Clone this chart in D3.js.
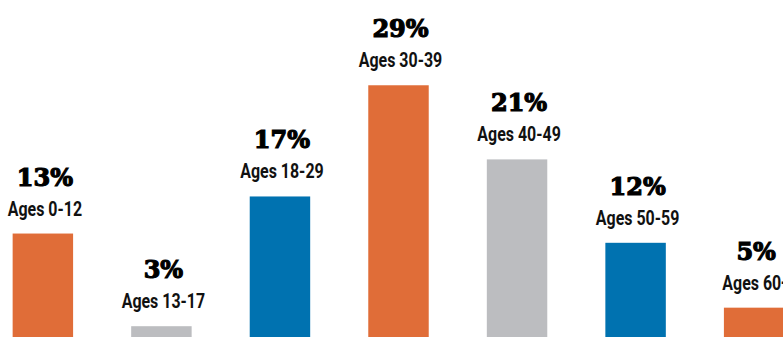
<!DOCTYPE html>
<html>
<head>
    <script src="https://d3js.org/d3.v7.min.js"></script>
    <style>
        body { margin: 0; background: #fff; overflow: hidden; }
        .pct { font-family: "DejaVu Serif", Georgia, serif; font-weight: bold; font-size: 24px; fill: #000; stroke: #000; stroke-width: 1.2px; }
        .age { font-family: Roboto, "DejaVu Sans Condensed", sans-serif; font-weight: bold; font-size: 21px; fill: #111; }
    </style>
</head>
<body>
    <div id="chart"></div>
    <script>
        const ageGroups = ["Ages 0-12", "Ages 13-17", "Ages 18-29", "Ages 30-39", "Ages 40-49", "Ages 50-59", "Ages 60+"];
        const shares = [13, 3, 17, 29, 21, 12, 5];
        const barColors = ["#e06d38", "#bcbdc0", "#0072b0", "#e06d38", "#bcbdc0", "#0072b0", "#e06d38"];

        const width = 783, height = 337;

        const svg = d3.select("#chart").append("svg")
            .attr("width", width)
            .attr("height", height);

        // bars run off the bottom edge, last one off the right edge
        const x = d3.scaleBand()
            .domain(ageGroups)
            .range([-17, 814])
            .paddingInner(0.49)
            .paddingOuter(0.25);

        const y = d3.scaleLinear()
            .domain([0, 30])
            .range([354, 76]);

        const g = svg.append("g");

        g.selectAll(".bar")
            .data(ageGroups)
            .enter()
            .append("rect")
            .attr("class", "bar")
            .attr("x", d => x(d))
            .attr("width", x.bandwidth())
            .attr("y", (d, i) => y(shares[i]))
            .attr("height", (d, i) => y(0) - y(shares[i]))
            .attr("fill", (d, i) => barColors[i]);

        g.selectAll(".pct")
            .data(ageGroups)
            .enter()
            .append("text")
            .attr("class", "pct")
            .attr("x", d => x(d) + x.bandwidth() / 2 + 2)
            .attr("y", (d, i) => y(shares[i]) - 48)
            .attr("text-anchor", "middle")
            .text((d, i) => shares[i] + "%");

        // condensed look: squeeze the label horizontally
        g.selectAll(".age")
            .data(ageGroups)
            .enter()
            .append("text")
            .attr("class", "age")
            .attr("transform", (d, i) => `translate(${x(d) + x.bandwidth() / 2 + 2},${y(shares[i]) - 18}) scale(0.76,1)`)
            .attr("text-anchor", "middle")
            .text(d => d);
    </script>
</body>
</html>
